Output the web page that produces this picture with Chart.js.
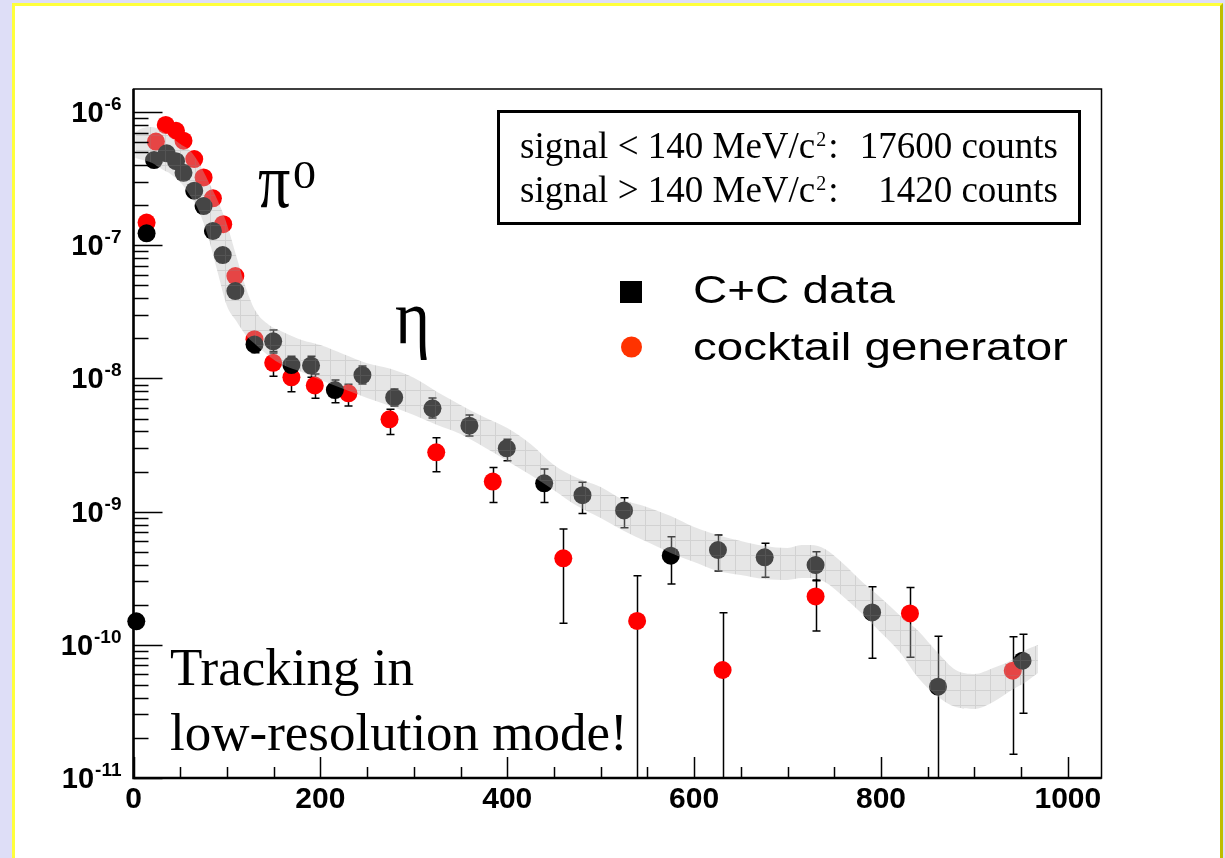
<!DOCTYPE html>
<html>
<head>
<meta charset="utf-8">
<script src="https://cdn.jsdelivr.net/npm/chart.js@4.4.1/dist/chart.umd.min.js"></script>
<style>
  html, body { margin: 0; padding: 0; }
  body { width: 1225px; height: 858px; background: #dedef7; position: relative; overflow: hidden; }
  #sheet { position: absolute; left: 12px; top: 3px; width: 1205px; height: 900px; background: #fff;
           border: 3px solid #ffff3c; border-right-color: #bebe00; }
  #plot { position: absolute; left: 0; top: 0; }
</style>
</head>
<body>
<div id="sheet"></div>
<canvas id="plot" width="1225" height="858"></canvas>
<script>
// C+C data (invariant mass bins, yield per bin)
const dataX = [3, 14, 22, 35.5, 45.5, 53.5, 65, 75, 85, 95.5, 109, 129.5, 149.5, 169, 190, 215.5,
  245, 279, 320, 359.5, 399.5, 439.5, 480.5, 525, 575, 625.5, 675.5, 730, 790.5, 861, 951.5];
const dataY = [1.5e-10, 1.23e-7, 4.36e-7, 4.9e-7, 4.28e-7, 3.5e-7, 2.57e-7, 1.97e-7, 1.28e-7, 8.44e-8,
  4.53e-8, 1.8e-8, 1.9e-8, 1.26e-8, 1.25e-8, 8.18e-9, 1.06e-8, 7.2e-9, 5.96e-9, 4.42e-9, 2.99e-9,
  1.63e-9, 1.33e-9, 1.02e-9, 4.67e-10, 5.15e-10, 4.54e-10, 3.97e-10, 1.75e-10, 4.85e-11, 7.6e-11];
const dataHi = [null, null, null, null, null, null, null, null, null, null, null,
  2.15e-8, 2.31e-8, 1.47e-8, 1.47e-8, 9.73e-9, 1.24e-8, 8.32e-9, 7.13e-9, 5.31e-9, 3.49e-9,
  2.09e-9, 1.66e-9, 1.27e-9, 6.49e-10, 6.67e-10, 5.78e-10, 5.0e-10, 2.73e-10, 1.16e-10, 1.2e-10];
const dataLo = [null, null, null, null, null, null, null, null, null, null, null,
  1.56e-8, 1.59e-8, 1.0e-8, 1.02e-8, 6.57e-9, 9.08e-9, 6.21e-9, 5.05e-9, 3.7e-9, 2.41e-9,
  1.17e-9, 9.7e-10, 7.57e-10, 2.86e-10, 3.58e-10, 3.21e-10, 3.03e-10, 7.92e-11, 0, 3.06e-11];

// cocktail generator
const cocktailX = [14, 24, 34.5, 45.5, 53.5, 65, 75, 85, 96, 109, 129.5, 149.5, 169, 194, 230,
  274, 324, 384.5, 460, 539, 630.5, 730, 831, 941];
const cocktailY = [1.48e-7, 6.0e-7, 8.0e-7, 7.24e-7, 6.1e-7, 4.44e-7, 3.23e-7, 2.25e-7, 1.44e-7,
  5.87e-8, 1.97e-8, 1.31e-8, 1.02e-8, 8.85e-9, 7.73e-9, 4.93e-9, 2.79e-9, 1.68e-9, 4.46e-10,
  1.51e-10, 6.47e-11, 2.31e-10, 1.72e-10, 6.4e-11];
const cocktailHi = [null, null, null, null, null, null, null, null, null, null, null,
  1.55e-8, 1.19e-8, 1.08e-8, 9.03e-9, 5.86e-9, 3.59e-9, 2.14e-9, 7.4e-10, 3.3e-10, 1.74e-10,
  3.06e-10, 2.69e-10, 1.15e-10];
const cocktailLo = [null, null, null, null, null, null, null, null, null, null, null,
  1.04e-8, 7.95e-9, 7.09e-9, 6.21e-9, 3.8e-9, 1.99e-9, 1.17e-9, 1.45e-10, 0, 0,
  1.27e-10, 8.05e-11, 1.51e-11];

// systematic uncertainty band around the data
const bandX = [2, 10, 20, 30, 40, 50, 60, 70, 80, 90, 100, 110, 120, 130, 145, 160, 180, 200, 225, 250,
  275, 300, 325, 350, 375, 400, 425, 450, 475, 500, 525, 550, 575, 600, 625, 650, 675, 700, 715, 725,
  740, 760, 780, 800, 820, 840, 860, 880, 900, 920, 940, 955, 968];
const bandUpper = [7.08e-7, 7.58e-7, 7.71e-7, 7.2e-7, 6.49e-7, 5.75e-7, 5.18e-7, 4.14e-7, 3.03e-7, 2.18e-7,
  1.44e-7, 8.3e-8, 4.86e-8, 3.26e-8, 2.52e-8, 2.23e-8, 1.94e-8, 1.78e-8, 1.52e-8, 1.3e-8,
  1.18e-8, 1.01e-8, 7.91e-9, 6.32e-9, 5.13e-9, 4.24e-9, 3.22e-9, 2.24e-9, 1.79e-9, 1.53e-9,
  1.22e-9, 1.08e-9, 9.27e-10, 7.66e-10, 6.67e-10, 6.01e-10, 5.51e-10, 5.33e-10, 5.61e-10, 5.61e-10,
  5.24e-10, 4.04e-10, 2.96e-10, 2.25e-10, 1.67e-10, 1.27e-10, 8.83e-11, 6.47e-11, 6.04e-11, 6.7e-11,
  7.69e-11, 9.14e-11, 9.97e-11];
const bandLower = [4.52e-7, 4.36e-7, 4.14e-7, 3.73e-7, 3.42e-7, 2.98e-7, 2.38e-7, 1.81e-7, 1.15e-7, 6.29e-8,
  3.5e-8, 2.7e-8, 2.12e-8, 1.81e-8, 1.47e-8, 1.26e-8, 1.12e-8, 9.73e-9, 8.32e-9, 7.13e-9,
  6.21e-9, 5.31e-9, 4.47e-9, 3.82e-9, 3.05e-9, 2.4e-9, 1.88e-9, 1.45e-9, 1.1e-9, 8.95e-10,
  7.15e-10, 5.91e-10, 4.89e-10, 4.18e-10, 3.58e-10, 3.34e-10, 3.12e-10, 3.07e-10, 3.17e-10, 3.17e-10,
  2.96e-10, 2.29e-10, 1.7e-10, 1.23e-10, 8.83e-11, 5.63e-11, 4.13e-11, 3.41e-11, 3.3e-11, 3.72e-11,
  4.58e-11, 5.26e-11, 6.14e-11];

// axes
const xLabels = [0, 200, 400, 600, 800, 1000];
const yDecades = [1e-11, 1e-10, 1e-9, 1e-8, 1e-7, 1e-6];
const X_MIN = 0, X_MAX = 1036;
const Y_MIN = 1e-11, Y_MAX = 1.49e-6;

const SANS = '"Liberation Sans", Arial, Helvetica, sans-serif';
const SERIF = '"Liberation Serif", "Times New Roman", serif';

function toPoints(xs, ys) {
  return xs.map((x, i) => ({ x, y: ys[i] }));
}

// light grey fill with a fine grid, drawn semi transparent over the markers
function hatchPattern() {
  const tile = document.createElement('canvas');
  tile.width = 15;
  tile.height = 15;
  const c = tile.getContext('2d');
  c.fillStyle = 'rgba(186,186,186,0.37)';
  c.fillRect(0, 0, 15, 15);
  c.fillStyle = 'rgba(140,140,140,0.22)';
  c.fillRect(0, 0, 1, 15);
  c.fillRect(1, 0, 14, 1);
  return c.createPattern(tile, 'repeat');
}

const errorBars = {
  id: 'errorBars',
  beforeDatasetsDraw(chart) {
    const { ctx, chartArea, scales: { x, y } } = chart;
    ctx.save();
    ctx.strokeStyle = '#000';
    ctx.lineWidth = 1.5;
    [[dataX, dataHi, dataLo], [cocktailX, cocktailHi, cocktailLo]].forEach(([xs, hi, lo]) => {
      xs.forEach((xv, i) => {
        if (hi[i] == null) return;
        const px = Math.round(x.getPixelForValue(xv)) + 0.5;
        const top = y.getPixelForValue(hi[i]);
        const open = lo[i] <= Y_MIN;
        const bottom = open ? chartArea.bottom : y.getPixelForValue(lo[i]);
        ctx.beginPath();
        ctx.moveTo(px, top);
        ctx.lineTo(px, bottom);
        ctx.moveTo(px - 4, top);
        ctx.lineTo(px + 4, top);
        if (!open) {
          ctx.moveTo(px - 4, bottom);
          ctx.lineTo(px + 4, bottom);
        }
        ctx.stroke();
      });
    });
    ctx.restore();
  }
};

function scaledText(ctx, text, x, y, sx, sy) {
  ctx.save();
  ctx.translate(x, y);
  ctx.scale(sx, sy);
  ctx.fillText(text, 0, 0);
  ctx.restore();
}

const frame = {
  id: 'frame',
  afterDraw(chart) {
    const { ctx, chartArea: a, scales: { x, y } } = chart;
    ctx.save();
    ctx.strokeStyle = '#000';
    ctx.fillStyle = '#000';

    // frame and axes
    ctx.lineWidth = 1.5;
    ctx.strokeRect(a.left, a.top, a.right - a.left, a.bottom - a.top);
    ctx.lineWidth = 2.5;
    ctx.beginPath();
    ctx.moveTo(a.left, a.top);
    ctx.lineTo(a.left, a.bottom);
    ctx.lineTo(a.right, a.bottom);
    ctx.stroke();

    // inward ticks
    ctx.lineWidth = 1.5;
    ctx.beginPath();
    for (let v = X_MIN; v <= X_MAX; v += 50) {
      const px = Math.round(x.getPixelForValue(v)) + 0.5;
      const len = v % 200 === 0 ? 21 : 11;
      ctx.moveTo(px, a.bottom);
      ctx.lineTo(px, a.bottom - len);
    }
    yDecades.forEach(d => {
      for (let m = 1; m <= 9; m++) {
        const v = d * m;
        if (v > Y_MAX) break;
        const py = Math.round(y.getPixelForValue(v)) + 0.5;
        ctx.moveTo(a.left, py);
        ctx.lineTo(a.left + (m === 1 ? 29 : 15), py);
      }
    });
    ctx.stroke();

    // tick labels
    ctx.textBaseline = 'alphabetic';
    ctx.textAlign = 'center';
    ctx.font = 'bold 30px ' + SANS;
    xLabels.forEach(v => ctx.fillText(String(v), x.getPixelForValue(v), a.bottom + 30));
    yDecades.forEach(d => {
      const py = y.getPixelForValue(d);
      const exp = String(Math.round(Math.log10(d)));
      ctx.font = 'bold 19px ' + SANS;
      const ew = ctx.measureText(exp).width;
      const right = a.left - 12;
      ctx.textAlign = 'left';
      ctx.fillText(exp, right - ew, py - 2);
      ctx.font = 'bold 29px ' + SANS;
      ctx.textAlign = 'right';
      ctx.fillText('10', right - ew - 1, py + 10);
    });

    // peak labels
    ctx.textAlign = 'left';
    ctx.font = '64px ' + SERIF;
    ctx.lineWidth = 1;
    scaledText(ctx, 'π', 258, 207, 1, 1.22);
    scaledText(ctx, 'η', 395, 343, 1.05, 1.22);
    ctx.font = '40px ' + SERIF;
    scaledText(ctx, '0', 293, 188, 1.15, 1);

    // counts box
    ctx.lineWidth = 3;
    ctx.strokeRect(498.5, 111.5, 581, 112);
    const countLine = (lead, count, base) => {
      ctx.textAlign = 'left';
      ctx.font = '37px ' + SERIF;
      ctx.fillText(lead, 520, base);
      const w = ctx.measureText(lead).width;
      ctx.font = '20px ' + SERIF;
      ctx.fillText('2', 521 + w, base - 12);
      const w2 = ctx.measureText('2').width;
      ctx.font = '37px ' + SERIF;
      ctx.fillText(':', 523 + w + w2, base);
      ctx.textAlign = 'right';
      ctx.fillText(count, 1058, base);
    };
    countLine('signal < 140 MeV/c', '17600 counts', 158);
    countLine('signal > 140 MeV/c', '1420 counts', 202);

    // legend
    ctx.fillStyle = '#000';
    ctx.fillRect(620, 281, 22, 22);
    ctx.fillStyle = '#ff3300';
    ctx.beginPath();
    ctx.arc(631.5, 347, 10.5, 0, Math.PI * 2);
    ctx.fill();
    ctx.fillStyle = '#000';
    ctx.textAlign = 'left';
    ctx.font = '38px ' + SANS;
    scaledText(ctx, 'C+C data', 693, 303, 1.25, 1);
    scaledText(ctx, 'cocktail generator', 693, 360, 1.25, 1);

    // note
    ctx.font = '53px ' + SERIF;
    ctx.fillText('Tracking in', 170, 685);
    ctx.fillText('low-resolution mode!', 170, 750);
    ctx.restore();
  }
};

new Chart(document.getElementById('plot'), {
  type: 'line',
  data: {
    datasets: [
      {
        label: 'band low',
        data: toPoints(bandX, bandLower),
        order: 1,
        borderColor: 'transparent',
        pointRadius: 0,
        fill: false,
        tension: 0.4,
        cubicInterpolationMode: 'monotone'
      },
      {
        label: 'band high',
        data: toPoints(bandX, bandUpper),
        order: 0,
        borderColor: 'transparent',
        pointRadius: 0,
        fill: '-1',
        backgroundColor: hatchPattern(),
        tension: 0.4,
        cubicInterpolationMode: 'monotone'
      },
      {
        label: 'C+C data',
        data: toPoints(dataX, dataY),
        order: 2,
        showLine: false,
        pointRadius: 9,
        pointBackgroundColor: '#000',
        pointBorderWidth: 0,
        clip: false
      },
      {
        label: 'cocktail generator',
        data: toPoints(cocktailX, cocktailY),
        order: 3,
        showLine: false,
        pointRadius: 9,
        pointBackgroundColor: '#ff0000',
        pointBorderWidth: 0,
        clip: false
      }
    ]
  },
  options: {
    responsive: false,
    animation: false,
    events: [],
    layout: { padding: { left: 133.5, right: 123.5, top: 89, bottom: 80 } },
    scales: {
      x: { type: 'linear', min: X_MIN, max: X_MAX, display: false },
      y: { type: 'logarithmic', min: Y_MIN, max: Y_MAX, display: false }
    },
    plugins: {
      legend: { display: false },
      tooltip: { enabled: false }
    }
  },
  plugins: [errorBars, frame]
});
</script>
</body>
</html>
